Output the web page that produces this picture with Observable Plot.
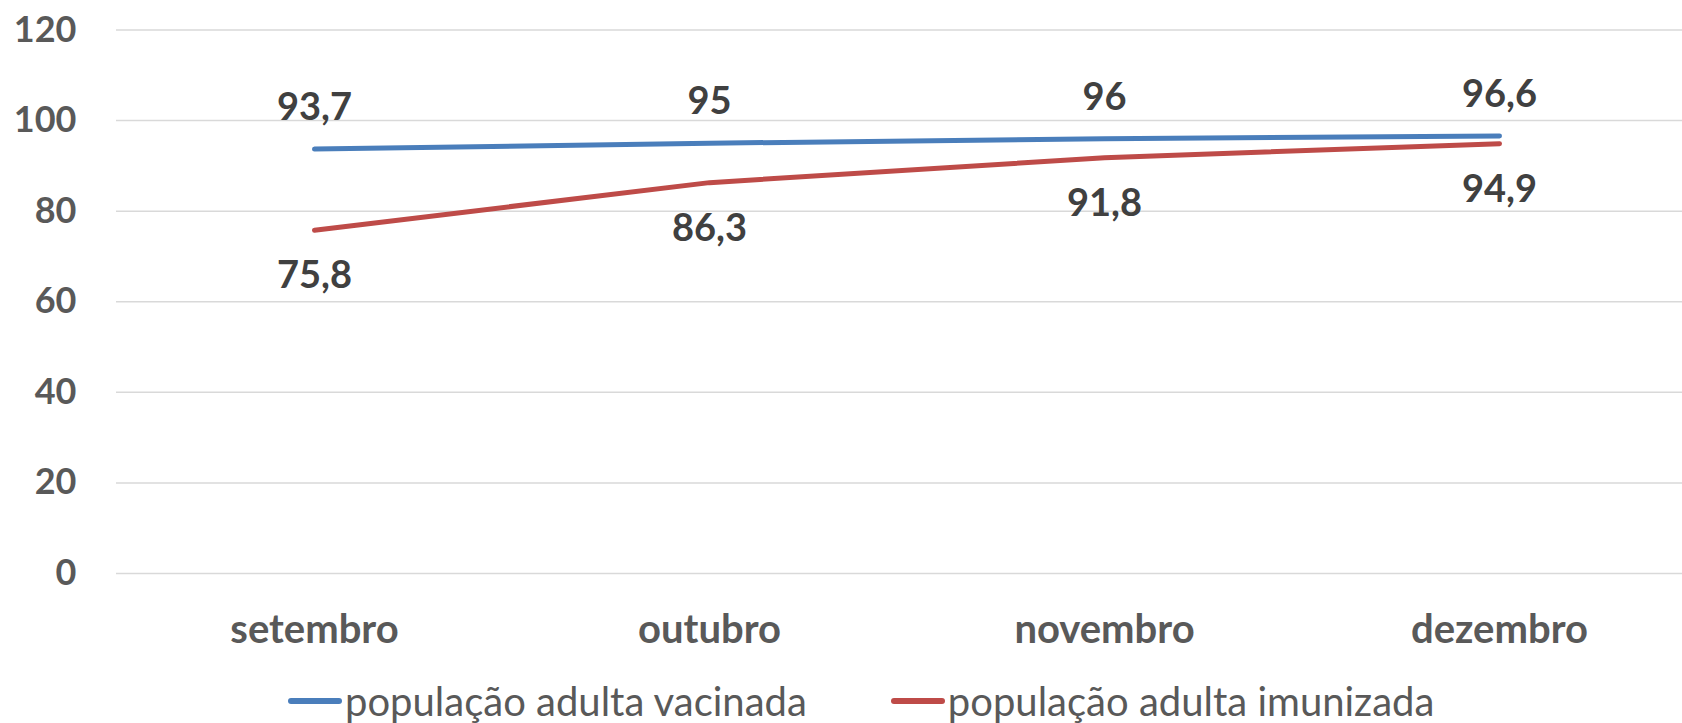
<!DOCTYPE html>
<html>
<head>
<meta charset="utf-8">
<script src="https://cdn.jsdelivr.net/npm/d3@7"></script>
<script src="https://cdn.jsdelivr.net/npm/@observablehq/plot@0.6"></script>
<style>
  html, body { margin: 0; padding: 0; background: #fff; }
  body { width: 1682px; height: 723px; overflow: hidden; font-family: Lato, "Open Sans", sans-serif; }
  #legend { display: flex; align-items: center; height: 63px; margin-top: 9px; padding-left: 288px; color: #595959; font-size: 40px; font-family: Lato, sans-serif; }
  .item { display: flex; align-items: center; margin-right: 84px; }
  .sw { width: 54px; height: 6px; border-radius: 3px; margin-right: 3px; }
</style>
</head>
<body>
<div id="chart"></div>
<div id="legend"></div>
<script>
const months = ["setembro", "outubro", "novembro", "dezembro"];
const vacinada = [93.7, 95, 96, 96.6];
const imunizada = [75.8, 86.3, 91.8, 94.9];
const seriesNames = ["população adulta vacinada", "população adulta imunizada"];
const seriesColors = ["#4A7EBB", "#BE4B48"];
const yTicks = [0, 20, 40, 60, 80, 100, 120];

const fmt = v => String(v).replace(".", ",");
const dataV = months.map((m, i) => ({month: m, value: vacinada[i]}));
const dataI = months.map((m, i) => ({month: m, value: imunizada[i]}));

const chart = Plot.plot({
  width: 1682,
  height: 660,
  marginLeft: 116,
  marginRight: 0,
  marginTop: 29.5,
  marginBottom: 87,
  style: {fontFamily: "Lato, sans-serif", background: "#fff"},
  x: {type: "point", domain: months, range: [116, 1696], padding: 0.5, label: null},
  y: {domain: [0, 120], label: null},
  marks: [
    Plot.ruleY(yTicks, {stroke: "#d9d9d9", strokeWidth: 1.5}),
    Plot.axisY({ticks: yTicks, tickSize: 0, tickPadding: 40, fontSize: 36, fontWeight: "bold", fill: "#595959", tickFormat: d => d, label: null}),
    Plot.axisX({tickSize: 0, tickPadding: 0, dy: 57, lineAnchor: "middle", fontSize: 40, fontWeight: "bold", fill: "#595959", label: null}),
    Plot.line(dataV, {x: "month", y: "value", stroke: seriesColors[0], strokeWidth: 5, strokeLinecap: "round"}),
    Plot.line(dataI, {x: "month", y: "value", stroke: seriesColors[1], strokeWidth: 5, strokeLinecap: "round"}),
    Plot.text(dataV, {x: "month", y: "value", text: d => fmt(d.value), dy: -41, lineAnchor: "middle", fontSize: 38, fontWeight: "bold", fill: "#404040"}),
    Plot.text(dataI, {x: "month", y: "value", text: d => fmt(d.value), dy: 46, lineAnchor: "middle", fontSize: 38, fontWeight: "bold", fill: "#404040"})
  ]
});
document.getElementById("chart").appendChild(chart);

const legend = document.getElementById("legend");
seriesNames.forEach((name, i) => {
  const item = document.createElement("div");
  item.className = "item";
  const sw = document.createElement("div");
  sw.className = "sw";
  sw.style.background = seriesColors[i];
  const label = document.createElement("span");
  label.textContent = name;
  item.appendChild(sw);
  item.appendChild(label);
  legend.appendChild(item);
});
</script>
</body>
</html>
